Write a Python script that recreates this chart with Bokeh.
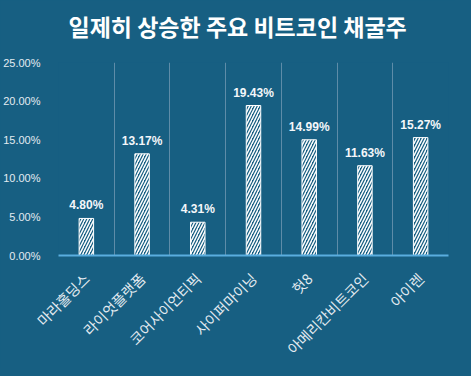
import math
from bokeh.plotting import figure
from bokeh.models import (ColumnDataSource, Range1d, FixedTicker, NumeralTickFormatter, Title)
from bokeh.core.properties import value
from bokeh.embed import file_html
from bokeh.resources import INLINE

# ---- data ----
names = ["마라홀딩스", "라이엇플랫폼", "코어사이언티픽", "사이퍼마이닝", "헛8", "아메리칸비트코인", "아이렌"]
pct = [4.80, 13.17, 4.31, 19.43, 14.99, 11.63, 15.27]
y_ticks = [0.0, 0.05, 0.10, 0.15, 0.20, 0.25]
title_text = "일제히 상승한 주요 비트코인 채굴주"

BG = "#175F82"
GRID = "#5E8CA8"
AXIS = "#5AAEDF"
TXT = "#E3EBF1"

xs = [i + 0.5 for i in range(len(names))]
src = ColumnDataSource(dict(
    x=xs,
    y=[v / 100.0 for v in pct],
    label=["%.2f%%" % v for v in pct],
))

p = figure(width=455, height=368, output_backend="svg", toolbar_location=None,
           x_range=Range1d(0, len(names)), y_range=Range1d(0, 0.25),
           min_border_left=49, min_border_right=7, min_border_top=62, min_border_bottom=113)
p.background_fill_color = BG
p.border_fill_color = BG
p.outline_line_color = None

p.vbar(x="x", top="y", width=0.26, source=src, fill_color=BG, line_color="white", line_width=1,
       hatch_pattern="/", hatch_color="white", hatch_scale=6, hatch_weight=1.5)

p.text(x="x", y="y", text="label", source=src, text_align="center", text_baseline="bottom",
       y_offset=-6, text_color="#F4F7FA", text_font=value("Liberation Sans"),
       text_font_style="bold", text_font_size="12px")

# x axis
p.xaxis.ticker = FixedTicker(ticks=xs)
p.xaxis.major_label_overrides = {x: n for x, n in zip(xs, names)}
p.xaxis.major_label_orientation = math.pi / 4
p.xaxis.major_label_text_font = "Noto Sans CJK KR"
p.xaxis.major_label_text_font_size = "14.5px"
p.xaxis.major_label_text_color = TXT
p.xaxis.major_label_standoff = 14
p.xaxis.major_tick_line_color = None
p.xaxis.minor_tick_line_color = None
p.xaxis.axis_line_color = AXIS
p.xaxis.axis_line_width = 2

# y axis
p.yaxis.ticker = FixedTicker(ticks=y_ticks)
p.yaxis.formatter = NumeralTickFormatter(format="0.00%")
p.yaxis.major_label_text_font = "Liberation Sans"
p.yaxis.major_label_text_font_size = "11px"
p.yaxis.major_label_text_color = TXT
p.yaxis.major_label_standoff = 12
p.yaxis.major_tick_line_color = None
p.yaxis.minor_tick_line_color = None
p.yaxis.axis_line_color = None

# grids
p.ygrid.grid_line_color = None
p.xgrid.ticker = FixedTicker(ticks=list(range(len(names) + 1)))
p.xgrid.grid_line_color = GRID
p.xgrid.grid_line_width = 1

# title
p.add_layout(Title(text=title_text, align="left", offset=10, text_color="white",
                   text_font="Noto Sans CJK KR", text_font_style="bold",
                   text_font_size="23px", standoff=0,
                   padding=dict(left=0, right=0, top=5, bottom=20)), "above")

html = file_html(p, INLINE)
html = html.replace("</head>", "<style>body{background:%s;}</style></head>" % BG, 1)
open("out.html", "w").write(html)
